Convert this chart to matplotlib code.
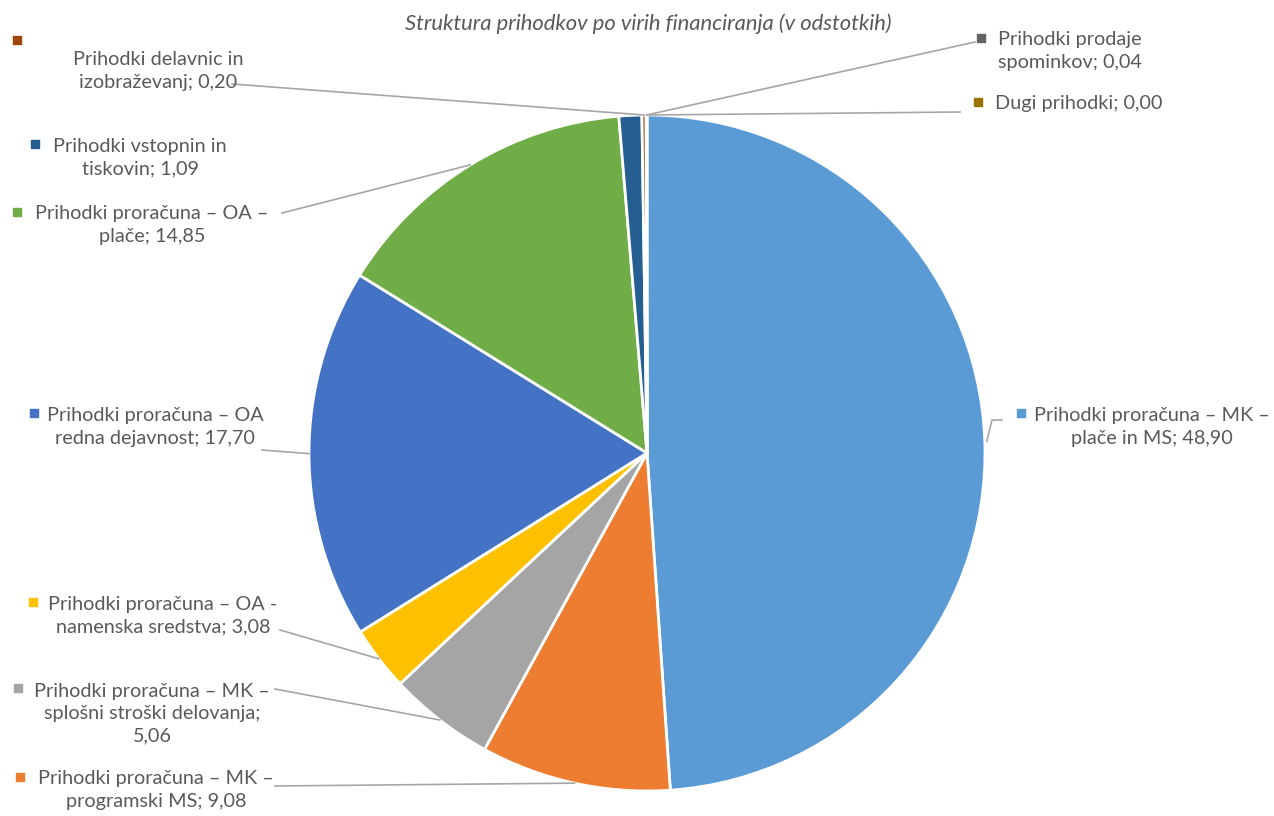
import numpy as np
import matplotlib.pyplot as plt

# shares in percent, clockwise from 12 o'clock
names = ['Prihodki proračuna – MK –\nplače in MS',
         'Prihodki proračuna – MK –\nprogramski MS',
         'Prihodki proračuna – MK –\nsplošni stroški delovanja;\n',
         'Prihodki proračuna – OA -\nnamenska sredstva',
         'Prihodki proračuna – OA\nredna dejavnost',
         'Prihodki proračuna – OA –\nplače',
         'Prihodki vstopnin in\ntiskovin',
         'Prihodki delavnic in\nizobraževanj',
         'Prihodki prodaje\nspominkov',
         'Dugi prihodki']
values = [48.90, 9.08, 5.06, 3.08, 17.70, 14.85, 1.09, 0.20, 0.04, 0.00]
colors = ['#5B9BD5', '#ED7D31', '#A5A5A5', '#FFC000', '#4472C4',
          '#70AD47', '#255E91', '#9E480E', '#636363', '#997300']

# label layout in pixels (text centre, marker, leader line start)
text_xy = [(1152, 427), (156, 790), (152, 714), (163, 616), (155, 427),
           (152, 225), (140, 158), (158, 71), (1070, 51), (1079, 103)]
marker_xy = [(1021, 413), (20, 777), (18, 688), (33, 602), (34, 413),
             (17, 212), (35, 144), (17, 40), (981, 38), (978, 102)]
leader_from = [(1002, 420), (275, 786), (275, 689), (280, 630), (262, 450),
               (282, 213), None, (232, 84), (975, 42), (960, 112)]

cx, cy, r = 647, 453, 338

fig = plt.figure(figsize=(12.74, 8.16), dpi=100)
ax = fig.add_axes([0, 0, 1, 1])

wedges, _ = ax.pie(values, colors=colors, startangle=-90, counterclock=True,
                   center=(cx, cy), radius=r,
                   wedgeprops=dict(edgecolor='white', linewidth=2))
ax.set_xlim(0, 1274)
ax.set_ylim(816, 0)
ax.set_aspect('equal')
ax.axis('off')

font = ['Lato', 'DejaVu Sans']
for i, w in enumerate(wedges):
    label = names[i] + ('; ' if not names[i].endswith('\n') else '') + f'{values[i]:.2f}'.replace('.', ',')
    ax.text(text_xy[i][0], text_xy[i][1], label, ha='center', va='center',
            multialignment='center', fontsize=14.3, color='#595959',
            family=font, linespacing=1.37)
    ax.scatter(marker_xy[i][0], marker_xy[i][1], marker='s', s=36,
               color=colors[i], zorder=5)
    if leader_from[i] is not None:
        mid = np.deg2rad((w.theta1 + w.theta2) / 2)
        ex = cx + r * np.cos(mid)
        ey = cy + r * np.sin(mid)
        sx, sy = leader_from[i]
        if i == 0:
            ax.plot([sx, 992, ex + 2], [sy, sy, ey], color='#A6A6A6', lw=1.2)
        else:
            ax.plot([sx, ex], [sy, ey], color='#A6A6A6', lw=1.2)

ax.text(648, 24, 'Struktura prihodkov po virih financiranja (v odstotkih)',
        ha='center', va='center', fontsize=15.8, style='italic',
        color='#595959', family=font)

fig.savefig('out.png', dpi=100)
